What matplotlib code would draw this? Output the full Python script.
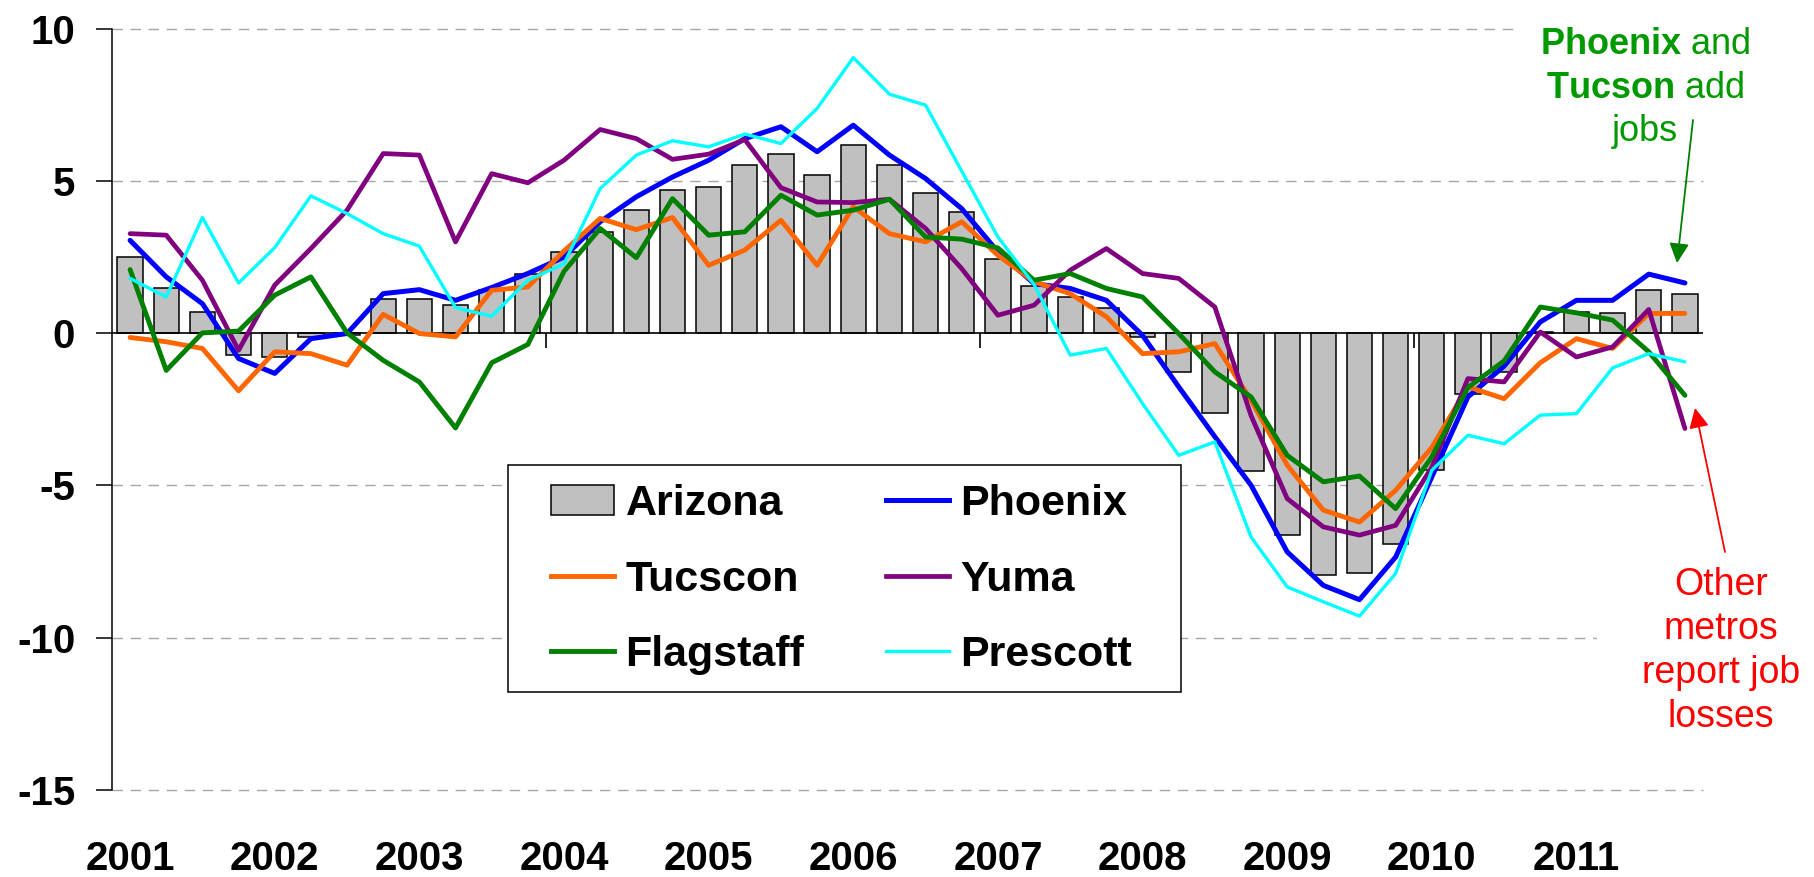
import matplotlib
matplotlib.use('Agg')
from matplotlib import pyplot as plt
from matplotlib.lines import Line2D
from matplotlib.patches import Patch, Rectangle, FancyArrowPatch

plt.rcParams['font.family'] = ['Liberation Sans', 'DejaVu Sans']
plt.rcParams['mathtext.fontset'] = 'custom'
plt.rcParams['mathtext.rm'] = 'Liberation Sans'
plt.rcParams['mathtext.bf'] = 'Liberation Sans:bold'
plt.rcParams['axes.unicode_minus'] = False

W, H = 1815, 877

years = ['2001', '2002', '2003', '2004', '2005', '2006',
         '2007', '2008', '2009', '2010', '2011']

# quarterly job growth, % y/y, 2001Q1 - 2011Q4
arizona = [2.50, 1.50, 0.71, -0.72, -0.78, -0.14, -0.05, 1.12, 1.12, 0.94, 1.41, 1.96,
           2.67, 3.34, 4.04, 4.70, 4.81, 5.53, 5.88, 5.18, 6.18, 5.53, 4.59, 3.98,
           2.44, 1.54, 1.19, 0.84, -0.14, -1.27, -2.62, -4.53, -6.61, -7.93, -7.87, -6.91,
           -4.48, -1.98, -1.27, 0.05, 0.70, 0.65, 1.41, 1.29]
phoenix = [3.05, 1.85, 0.97, -0.83, -1.32, -0.18, -0.01, 1.30, 1.43, 1.08, 1.50, 1.96,
           2.50, 3.66, 4.48, 5.13, 5.68, 6.39, 6.78, 5.96, 6.83, 5.85, 5.08, 4.09,
           2.67, 1.63, 1.47, 1.08, -0.07, -1.76, -3.40, -4.99, -7.18, -8.28, -8.75, -7.35,
           -4.72, -2.09, -1.08, 0.37, 1.08, 1.08, 1.94, 1.65]
tucson = [-0.14, -0.28, -0.50, -1.89, -0.61, -0.67, -1.05, 0.62, -0.01, -0.12, 1.41, 1.52,
          2.70, 3.77, 3.40, 3.80, 2.23, 2.73, 3.71, 2.23, 4.15, 3.27, 3.00, 3.66,
          2.56, 1.69, 1.30, 0.54, -0.67, -0.61, -0.34, -2.20, -4.33, -5.81, -6.20, -5.16,
          -3.75, -1.76, -2.15, -0.97, -0.18, -0.50, 0.65, 0.65]
yuma = [3.27, 3.22, 1.74, -0.56, 1.58, 2.78, 4.04, 5.90, 5.85, 3.00, 5.24, 4.94,
        5.68, 6.69, 6.39, 5.71, 5.88, 6.36, 4.78, 4.31, 4.29, 4.40, 3.44, 2.12,
        0.59, 0.92, 2.07, 2.78, 1.96, 1.80, 0.86, -2.70, -5.43, -6.36, -6.63, -6.31,
        -4.40, -1.49, -1.60, 0.04, -0.78, -0.45, 0.78, -3.13]
flagstaff = [2.09, -1.22, 0.01, 0.07, 1.25, 1.85, 0.01, -0.89, -1.60, -3.11, -0.97, -0.37,
             2.03, 3.44, 2.48, 4.42, 3.22, 3.33, 4.53, 3.88, 4.04, 4.40, 3.16, 3.09,
             2.80, 1.74, 1.96, 1.47, 1.19, -0.01, -1.27, -2.09, -4.01, -4.88, -4.69, -5.76,
             -4.06, -1.78, -0.91, 0.86, 0.67, 0.43, -0.61, -2.04]
prescott = [1.80, 1.19, 3.80, 1.65, 2.81, 4.51, 3.93, 3.27, 2.86, 0.84, 0.56, 1.74,
            2.28, 4.75, 5.85, 6.32, 6.12, 6.54, 6.23, 7.38, 9.05, 7.85, 7.49, 5.32,
            3.16, 1.60, -0.72, -0.50, -2.31, -4.01, -3.57, -6.69, -8.33, -8.82, -9.29, -7.89,
            -4.50, -3.35, -3.63, -2.69, -2.64, -1.14, -0.67, -0.94]

series = [
    ('Phoenix', phoenix, '#0000FF', 3.6),
    ('Tucscon', tucson, '#FF6600', 3.5),
    ('Yuma', yuma, '#800080', 3.4),
    ('Flagstaff', flagstaff, '#008000', 3.5),
    ('Prescott', prescott, '#00FFFF', 2.4),
]

x = list(range(len(arizona)))

fig = plt.figure(figsize=(W / 100, H / 100), dpi=100)
ax = fig.add_axes([112 / W, 1 - 790 / H, (1703 - 112) / W, (790 - 28.7) / H])
ax.set_xlim(-0.5, len(x) - 0.5)
ax.set_ylim(-15, 10)

for v in [-15, -10, -5, 5, 10]:
    ax.axhline(v, color='#A6A6A6', lw=1.0, ls=(0, (7.5, 5.5)), zorder=0, clip_on=False)

ax.bar(x, arizona, width=0.7, color='#C0C0C0', edgecolor='black', linewidth=1.1, zorder=2)
ax.axhline(0, color='black', lw=1.2, zorder=2.5)
ax.vlines([11.5, 23.5, 35.5], -0.5, 0, colors='black', lw=1.2, zorder=2.5)

for name, vals, col, lw in series:
    ax.plot(x, vals, color=col, lw=lw, solid_joinstyle='round', solid_capstyle='round', zorder=3)

for s in ['top', 'right', 'bottom']:
    ax.spines[s].set_visible(False)
ax.spines['left'].set_linewidth(1.1)

ax.set_yticks(range(-15, 11, 5))
ax.tick_params(axis='y', length=11.5, width=1.1, pad=15, labelsize=29)
ax.set_xticks(range(0, len(x), 4))
ax.set_xticklabels(years)
ax.tick_params(axis='x', length=0, pad=36, labelsize=29)
for lab in ax.get_xticklabels() + ax.get_yticklabels():
    lab.set_fontweight('bold')

# legend with a separate frame
ax.add_patch(Rectangle((508 / W, 1 - 692 / H), (1181 - 508) / W, (692 - 465) / H,
                       transform=fig.transFigure, facecolor='white', edgecolor='black',
                       lw=1.1, clip_on=False, zorder=4))
handles = [Patch(facecolor='#C0C0C0', edgecolor='black', lw=1.1, label='Arizona')]
for name, vals, col, lw in series:
    handles.append(Line2D([], [], color=col, lw=lw, label=name))
order = [0, 2, 4, 1, 3, 5]
leg = ax.legend([handles[i] for i in order], [handles[i].get_label() for i in order],
                ncol=2, loc='upper left', bbox_to_anchor=(551 / W, 1 - 484 / H),
                bbox_transform=fig.transFigure, frameon=False, borderpad=0, borderaxespad=0,
                handlelength=1.47, handletextpad=0.26, columnspacing=1.9, labelspacing=0.83,
                prop={'size': 31, 'weight': 'bold'})
leg.set_zorder(5)

# annotations
fig.text(1645 / W, 1 - 88 / H, '$\\bf{Phoenix}$ and\n$\\bf{Tucson}$ add\njobs',
         ha='center', va='center', multialignment='center', fontsize=26, color='#009900',
         linespacing=1.3, bbox=dict(boxstyle='square,pad=0.6', facecolor='white', edgecolor='none'))
fig.text(1721 / W, 1 - 651 / H, 'Other\nmetros\nreport job\nlosses',
         ha='center', va='center', multialignment='center', fontsize=27, color='#FF0000',
         linespacing=1.28, bbox=dict(boxstyle='square,pad=1.2', facecolor='white', edgecolor='none'))

fig.add_artist(FancyArrowPatch((1693 / W, 1 - 120 / H), (1677 / W, 1 - 263 / H),
                               transform=fig.transFigure, arrowstyle='-|>,head_length=0.6,head_width=0.3',
                               mutation_scale=20, color='#008000', lw=1.3, shrinkA=0, shrinkB=0, zorder=6))
fig.add_artist(FancyArrowPatch((1725 / W, 1 - 552 / H), (1695 / W, 1 - 408 / H),
                               transform=fig.transFigure, arrowstyle='-|>,head_length=0.6,head_width=0.3',
                               mutation_scale=20, color='#FF0000', lw=1.3, shrinkA=0, shrinkB=0, zorder=6))

fig.savefig('out.png', dpi=100)
plt.close(fig)
